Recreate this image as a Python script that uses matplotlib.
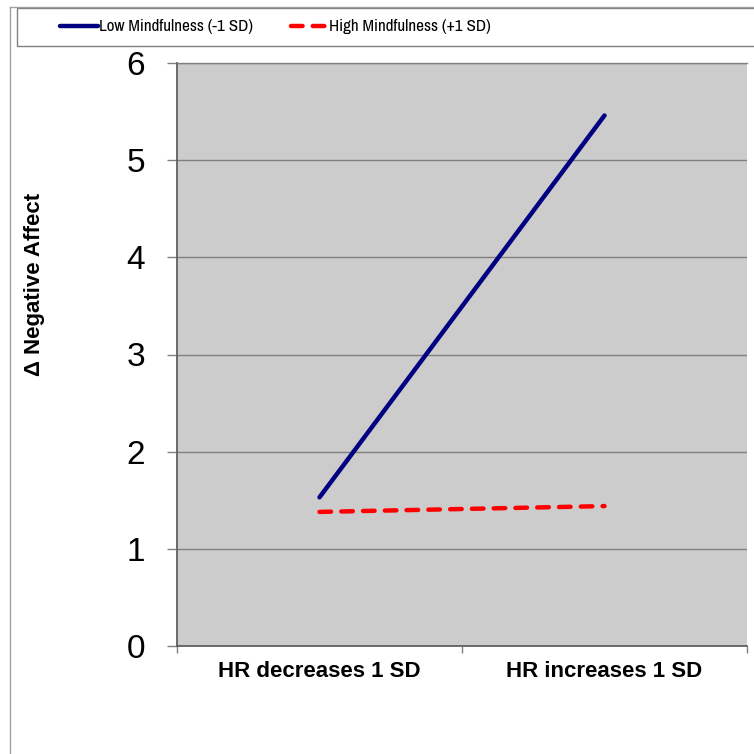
import matplotlib
matplotlib.use("Agg")
import matplotlib.pyplot as plt
from matplotlib.lines import Line2D
from matplotlib.patches import Rectangle

categories = ["HR decreases 1 SD", "HR increases 1 SD"]
low_mind = [1.53, 5.46]
high_mind = [1.38, 1.44]
series_labels = ["Low Mindfulness (-1 SD)", "High Mindfulness (+1 SD)"]
yticks = [0, 1, 2, 3, 4, 5, 6]

plt.rcParams['font.family'] = ['Liberation Sans', 'DejaVu Sans']

fig = plt.figure(figsize=(7.54, 7.54), dpi=100)
W = 754.0
ax = fig.add_axes([177 / W, 1 - 646 / W, 570 / W, 583 / W])
ax.set_facecolor("#CCCCCC")

x = list(range(len(categories)))
l1, = ax.plot(x, low_mind, color="#000080", lw=3.2, solid_capstyle="round")
l2, = ax.plot(x, high_mind, color="#FF0000", lw=3.2, dashes=(2.6, 2.3),
              dash_capstyle="round")

ax.set_xlim(-0.5, 1.5)
ax.set_ylim(0, 6)
ax.set_yticks(yticks)
ax.set_yticklabels([str(v) for v in yticks], fontsize=24)
ax.set_xticks(x)
ax.set_xticklabels(categories, fontsize=16, fontweight="bold")
ax.set_xticks([-0.5, 0.5, 1.5], minor=True)
ax.tick_params(axis="x", which="major", length=0, pad=11)
ax.tick_params(axis="x", which="minor", length=5, color="#808080", width=1)
ax.tick_params(axis="y", length=7, color="#808080", width=1, pad=16)
ax.yaxis.grid(True, color="#808080", lw=1)
ax.set_axisbelow(True)
ax.spines["top"].set_color("#808080")
ax.spines["top"].set_linewidth(1)
ax.spines["right"].set_visible(False)
ax.spines["left"].set_color("#606060")
ax.spines["bottom"].set_color("#606060")
ax.spines["left"].set_linewidth(1.3)
ax.spines["bottom"].set_linewidth(1.3)

fig.text(35 / W, 1 - 284 / W, "Δ Negative Affect", rotation=90, fontsize=16,
         fontweight="bold", ha="center", va="center")

# chart border lines
fig.add_artist(Line2D([10 / W, 10 / W], [0, 1 - 7 / W], color="#A0A0A0", lw=1,
                      transform=fig.transFigure))
fig.add_artist(Line2D([10 / W, 1], [1 - 7 / W, 1 - 7 / W], color="#A0A0A0", lw=1,
                      transform=fig.transFigure))
# legend box
fig.add_artist(Rectangle((17 / W, 1 - 46 / W), 740 / W, 38 / W, fill=False,
                         edgecolor="#808080", lw=1, transform=fig.transFigure))

leg = fig.legend([l1, l2], series_labels, loc="center left",
                 bbox_to_anchor=(45 / W, 1 - 27 / W), ncol=2, frameon=False,
                 handlelength=2.2, handletextpad=0.06, columnspacing=2.2,
                 prop={"family": ["Archivo Narrow", "Liberation Sans"], "size": 12.3})

fig.savefig("out.png", dpi=100)
